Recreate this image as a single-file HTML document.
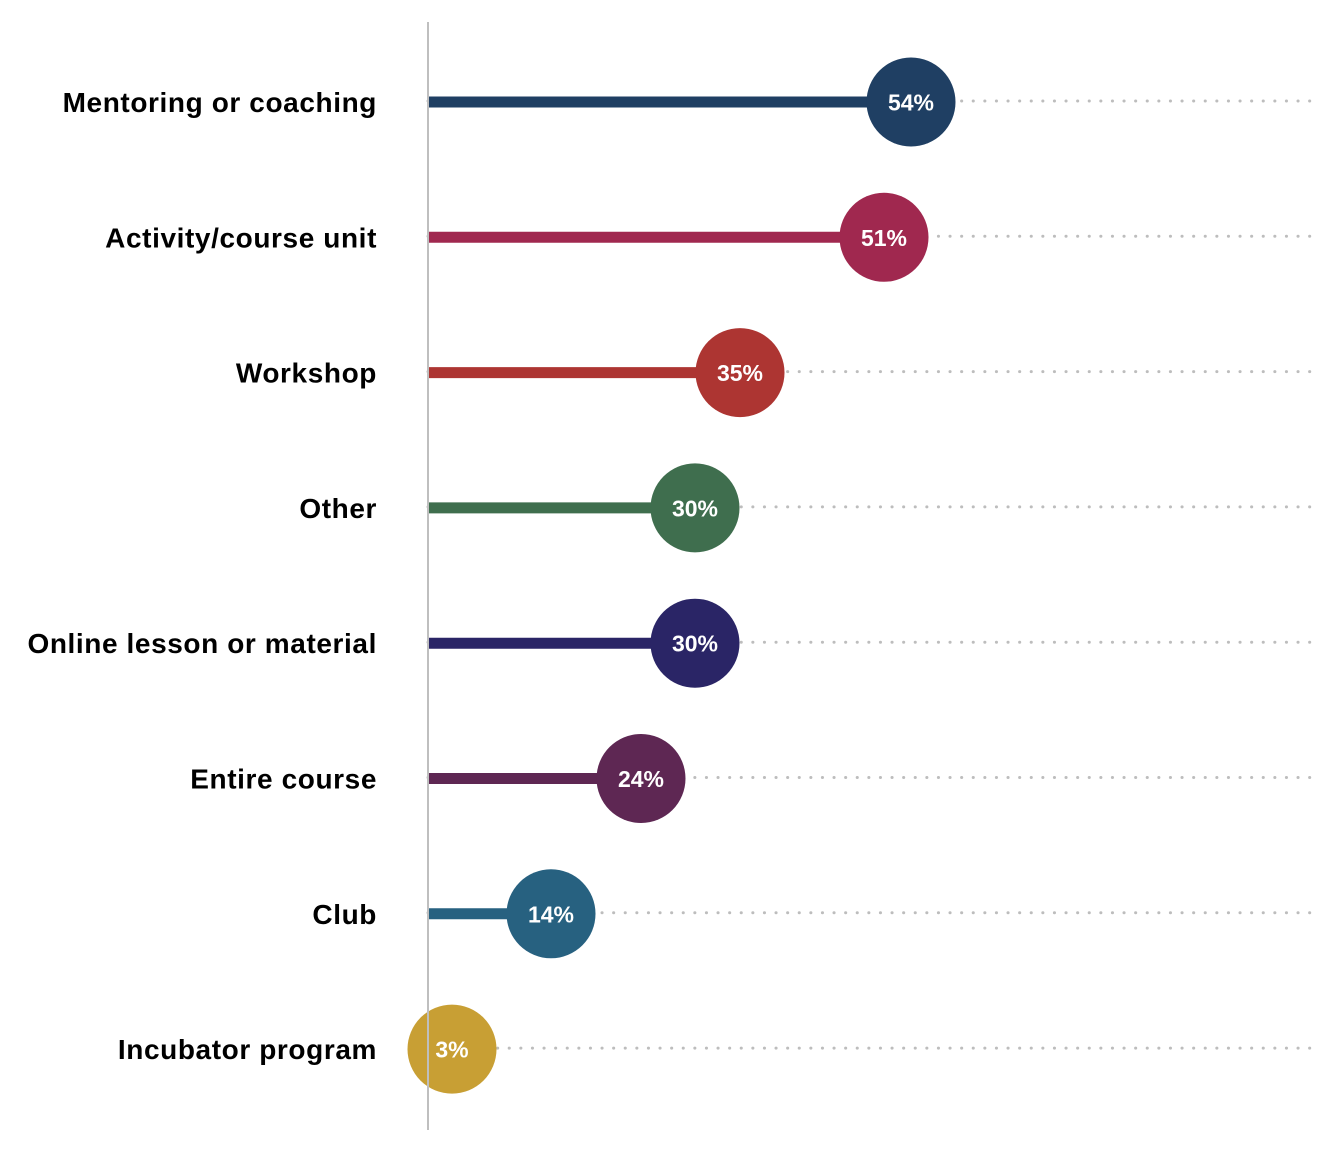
<!DOCTYPE html>
<html><head><meta charset="utf-8"><style>
html,body{margin:0;padding:0;background:#fff;}
svg{display:block;}
</style></head><body>
<svg id="chart" width="1344" height="1152" viewBox="0 0 1344 1152" xmlns="http://www.w3.org/2000/svg">
<g id="grid"></g>
<g id="marks"></g>
<line x1="428" y1="22" x2="428" y2="1130" stroke="#bfbfbf" stroke-width="2"/>
<g id="labels"></g>
</svg>
<script>
const categories = ["Mentoring or coaching","Activity/course unit","Workshop","Other","Online lesson or material","Entire course","Club","Incubator program"];
const values = [54,51,35,30,30,24,14,3];
const valueLabels = ["54%","51%","35%","30%","30%","24%","14%","3%"];
const colors = ["#1f3f63","#a0284f","#ad3532","#3f6e4e","#2a2566","#5e2753","#276180","#c89f34"];
const NS="http://www.w3.org/2000/svg";
function xScale(v){return 425 + v*9.0;}
function yScale(i){return 102 + i*135.3;}
const grid=document.getElementById('grid'),marks=document.getElementById('marks'),labels=document.getElementById('labels');
function mk(t,a){const e=document.createElementNS(NS,t);for(const k in a)e.setAttribute(k,a[k]);return e;}
categories.forEach((c,i)=>{
  const y=yScale(i),x=xScale(values[i]);
  const g=mk('line',{x1:428,y1:y-1,x2:1320,y2:y-1,stroke:'#bdbdbd','stroke-width':3,'stroke-dasharray':'0.1 11.5','stroke-linecap':'round'});
  
  
  grid.appendChild(g);
  const s=mk('line',{x1:428,y1:y,x2:x,y2:y,stroke:colors[i],'stroke-width':11});
  
  
  marks.appendChild(s);
  const cc=mk('circle',{cx:x,cy:y,r:44.5,fill:colors[i]});
  
  
  marks.appendChild(cc);
  const vt=mk('text',{x:x,y:y+8.5,'text-anchor':'middle',fill:'#fff','font-family':'Liberation Sans, sans-serif','font-weight':'bold','font-size':23});
  vt.textContent=valueLabels[i];
  
  
  marks.appendChild(vt);
  const lt=mk('text',{x:377,y:y+10,'text-anchor':'end',fill:'#000','font-family':'Liberation Sans, sans-serif','font-weight':'bold','font-size':28,'letter-spacing':0.6});
  lt.textContent=c;
  
  
  labels.appendChild(lt);
});
</script>
</body></html>
